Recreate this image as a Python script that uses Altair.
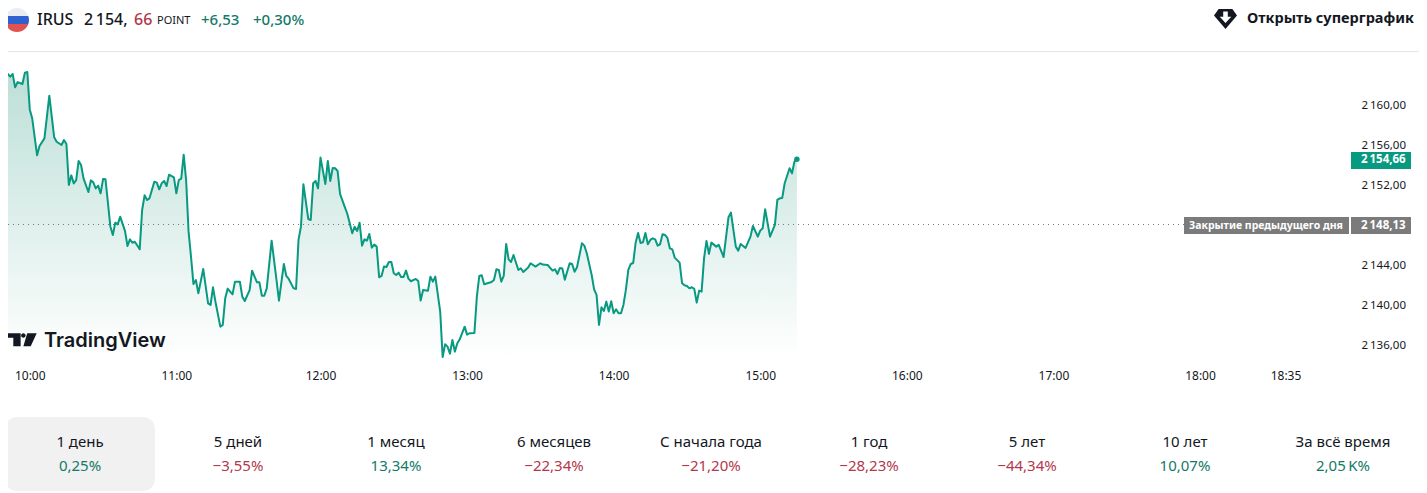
import json

import altair as alt
import pandas as pd

# minutes counted from 09:50
minutes = [
    0, 1, 2, 3, 4, 5, 7, 8, 9, 10, 11, 13, 14, 16, 18, 20, 21, 23, 24, 25, 26, 27, 28, 29, 30, 31, 32, 34, 35, 36,
    37, 38, 39, 40, 41, 43, 44, 45, 46, 47, 49, 50, 51, 52, 53, 55, 56, 57, 58, 59, 61, 62, 63, 64, 65, 66, 67, 69,
    70, 71, 72, 73, 74, 75, 76, 77, 78, 79, 81, 83, 84, 85, 86, 88, 89, 90, 91, 93, 94, 96, 97, 98, 100, 101, 103,
    104, 105, 106, 107, 109, 111, 112,
    114, 115, 116, 118, 119, 120, 121, 122, 124, 125, 126, 127, 128, 129, 131, 132, 133, 134, 135, 136, 137, 139,
    140, 142, 143, 144, 145, 146, 147, 148, 149, 150, 151, 152, 153, 154, 155, 156, 157, 158, 159, 160, 161, 162,
    163, 164, 165, 166, 168, 169, 170, 171, 173, 174, 175, 176, 178, 179, 180, 181, 182, 183, 184, 185, 186, 188,
    189, 190, 192, 193, 194, 195, 196, 199, 200, 201, 202, 203, 204, 205, 206, 207, 208, 210, 211, 212, 214, 215,
    217, 219,
    220, 222, 224, 225, 226, 227, 228, 229, 231, 232, 233, 234, 236, 237, 238, 240, 241, 242, 243, 244, 245, 246,
    247, 248, 249, 250, 251, 252, 253, 254, 255, 256, 257, 258, 259, 260, 261, 262, 263, 264, 265, 266, 267, 268,
    269, 270, 271, 272, 273, 274, 276, 277, 278, 279, 280, 281, 282, 283, 284, 285, 286, 287, 288, 289, 291, 292,
    294, 296, 297, 299, 300, 301, 303, 305, 306, 308, 309, 310, 311, 313, 315, 316, 317, 318, 319, 321, 322, 323,
    324,
]
prices = [
    2163.27, 2163.21, 2162.94, 2163.21, 2161.87, 2162.40, 2162.20, 2163.34, 2163.41, 2159.66, 2158.76, 2155.06,
    2155.99, 2156.76, 2161.03, 2156.86, 2156.42, 2156.09, 2156.59, 2156.19, 2152.08, 2153.05, 2152.25, 2152.58,
    2154.49, 2154.09, 2152.75, 2151.38, 2152.55, 2152.35, 2151.75, 2152.02, 2151.25, 2152.68, 2152.65, 2147.91,
    2147.07, 2148.31, 2148.14, 2148.91, 2147.47, 2145.97, 2146.64, 2146.30, 2146.40, 2145.64, 2149.58, 2151.05,
    2150.58, 2150.75, 2152.42, 2152.32, 2151.65, 2152.25, 2152.48, 2151.98, 2153.12, 2152.85, 2151.25, 2152.58,
    2152.72, 2155.12, 2152.58, 2147.41, 2144.90, 2142.16, 2142.56, 2141.23, 2143.67, 2140.23, 2140.06, 2141.83,
    2140.39, 2137.89, 2138.06, 2140.73, 2141.70, 2141.13, 2142.40, 2142.40, 2140.89, 2140.46, 2141.56, 2143.50,
    2142.33, 2142.33, 2140.99, 2140.99, 2141.73, 2146.51, 2142.56, 2140.49,
    2144.17, 2142.97, 2142.67, 2141.73, 2141.67, 2146.58, 2147.91, 2152.16, 2148.68, 2148.58, 2152.26, 2152.49,
    2151.75, 2154.83, 2152.19, 2154.49, 2152.49, 2153.79, 2153.76, 2153.49, 2151.19, 2149.85, 2149.18, 2147.25,
    2147.91, 2147.48, 2148.31, 2146.01, 2146.64, 2146.51, 2147.18, 2145.81, 2146.11, 2145.91, 2142.84, 2142.97,
    2143.91, 2143.87, 2144.37, 2144.37, 2143.24, 2143.07, 2143.30, 2142.87, 2142.87, 2143.51, 2142.70, 2142.44,
    2142.67, 2142.47, 2140.50, 2141.57, 2141.50, 2142.90, 2142.40, 2142.90, 2139.40, 2134.85, 2136.12, 2135.89,
    2135.19, 2136.56, 2135.39, 2136.22, 2136.62, 2137.89, 2137.09, 2137.23, 2137.26, 2140.90, 2142.97, 2143.04,
    2142.14, 2142.37, 2142.57, 2143.64, 2143.57, 2142.40, 2142.97, 2146.18, 2144.64, 2144.37, 2145.07, 2143.57,
    2143.74, 2143.37, 2143.81, 2144.24, 2143.91, 2144.24,
    2144.11, 2144.07, 2143.51, 2143.64, 2143.17, 2143.77, 2143.71, 2142.60, 2144.24, 2144.17, 2143.40, 2143.84,
    2146.24, 2146.01, 2145.24, 2143.07, 2141.63, 2141.07, 2138.06, 2139.83, 2139.46, 2140.40, 2139.40, 2140.43,
    2139.23, 2139.63, 2139.23, 2139.23, 2140.07, 2141.57, 2143.57, 2144.17, 2144.27, 2146.31, 2147.28, 2146.28,
    2146.34, 2147.28, 2146.14, 2146.58, 2146.74, 2146.64, 2146.01, 2146.14, 2147.15, 2147.08, 2146.78, 2145.74,
    2145.64, 2144.81, 2144.31, 2142.24, 2142.04, 2141.97, 2141.73, 2141.84, 2141.67, 2140.30, 2141.50, 2141.40,
    2144.74, 2146.48, 2145.18, 2146.31, 2145.91, 2146.08, 2144.87, 2148.85, 2149.32, 2145.91, 2145.51, 2146.18,
    2145.78, 2146.91, 2147.98, 2146.91, 2147.51, 2147.75, 2149.65, 2146.91, 2148.08, 2150.59, 2150.75, 2150.79,
    2152.26, 2153.76, 2153.26, 2154.43, 2154.66,
]
prev_close = 2148.13
last_price = 2154.66

y_ticks = [2136, 2140, 2144, 2152, 2156, 2160]
x_ticks = [10, 70, 129, 189, 249, 309, 369, 429, 489, 524]
x_tick_labels = ["10:00", "11:00", "12:00", "13:00", "14:00", "15:00", "16:00", "17:00", "18:00", "18:35"]

periods = ["1 день", "5 дней", "1 месяц", "6 месяцев", "С начала года", "1 год", "5 лет", "10 лет", "За всё время"]
returns = ["0,25%", "−3,55%", "13,34%", "−22,34%", "−21,20%", "−28,23%", "−44,34%", "10,07%", "2,05\u2009K%"]
period_x = [80, 238, 396, 554, 711, 869, 1027, 1185, 1343]

FONT = "Noto Sans"
GREEN = "#089981"
TEXT_GREEN = "#137a68"
TEXT_RED = "#b2384c"
INK = "#131722"
LIGHT_FLAG = "#e9ecf3"

X_DOMAIN = [1.09, 550.4]
Y_DOMAIN = [2134.55, 2169.82]
x_scale = alt.Scale(domain=X_DOMAIN, nice=False, zero=False)
y_scale = alt.Scale(domain=Y_DOMAIN, nice=False, zero=False)

ONE_ROW = pd.DataFrame({"row": [0]})


def label(text, x, y, size=14, color=INK, align="left", weight="normal", font=FONT):
    # page pixels, the svg starts 8px into the page
    return (
        alt.Chart(ONE_ROW)
        .mark_text(fontSize=size, color=color, align=align, baseline="middle", fontWeight=weight, font=font)
        .encode(x=alt.value(x - 8), y=alt.value(y - 8), text=alt.value(text))
    )


def box(x, x2, y, y2, color, radius=0):
    return (
        alt.Chart(ONE_ROW)
        .mark_rect(color=color, cornerRadius=radius)
        .encode(x=alt.value(x - 8), x2=alt.value(x2 - 8), y=alt.value(y - 8), y2=alt.value(y2 - 8))
    )


def icon(path, x, y, diameter, color):
    return (
        alt.Chart(ONE_ROW)
        .mark_point(shape=path, size=diameter**2, filled=True, color=color, opacity=1, strokeWidth=0)
        .encode(x=alt.value(x - 8), y=alt.value(y - 8))
    )


df = pd.DataFrame({"minute": minutes, "price": prices})
df["floor"] = Y_DOMAIN[0]

y_label = "slice(format(datum.value,'.2f'),0,1)+'\u2009'+replace(slice(format(datum.value,'.2f'),1),'.',',')"
x_label = f"{json.dumps(x_tick_labels)}[indexof({json.dumps(x_ticks)},datum.value)]"

x_axis = alt.Axis(
    values=x_ticks,
    labelExpr=x_label,
    domain=False,
    ticks=False,
    grid=False,
    title=None,
    labelFont=FONT,
    labelFontSize=12,
    labelColor=INK,
    labelPadding=10,
    labelAngle=0,
    labelOverlap=False,
)
y_axis = alt.Axis(
    orient="right",
    values=y_ticks,
    labelExpr=y_label,
    domain=False,
    ticks=False,
    grid=False,
    title=None,
    labelFont=FONT,
    labelFontSize=11.5,
    labelColor=INK,
    labelPadding=11,
    labelOffset=-0.5,
)
x_enc = alt.X("minute:Q", scale=x_scale, axis=x_axis)
y_enc = alt.Y("price:Q", scale=y_scale, axis=y_axis)

area = (
    alt.Chart(df)
    .mark_area(
        color=alt.Gradient(
            gradient="linear",
            x1=0,
            x2=0,
            y1=0,
            y2=1,
            stops=[alt.GradientStop(color="#bcdfd7", offset=0), alt.GradientStop(color="#ffffff", offset=1)],
        )
    )
    .encode(x=x_enc, y=y_enc, y2=alt.Y2("floor:Q"))
)

line = (
    alt.Chart(df)
    .mark_line(color=GREEN, strokeWidth=2, strokeJoin="round")
    .encode(x=x_enc, y=y_enc)
)

last_dot = (
    alt.Chart(df.tail(1))
    .mark_circle(color=GREEN, size=30, opacity=1)
    .encode(x=x_enc, y=y_enc)
)

close_rule = (
    alt.Chart(ONE_ROW)
    .mark_rule(color="#6f7480", strokeDash=[1, 4], strokeWidth=1)
    .encode(y=alt.Y(datum=prev_close, scale=y_scale, axis=y_axis), x=alt.value(0), x2=alt.value(1176))
)

tabs = pd.DataFrame(
    {
        "period": periods,
        "ret": returns,
        "px": [v - 8 for v in period_x],
        "colour": [TEXT_RED if r.startswith("−") else TEXT_GREEN for r in returns],
    }
)
tab_names = (
    alt.Chart(tabs)
    .mark_text(fontSize=15, color=INK, font=FONT, baseline="middle")
    .encode(x=alt.X("px:Q", scale=None), y=alt.value(434), text="period:N")
)
tab_returns = (
    alt.Chart(tabs)
    .mark_text(fontSize=15, font=FONT, baseline="middle")
    .encode(x=alt.X("px:Q", scale=None), y=alt.value(458), text="ret:N", color=alt.Color("colour:N", scale=None))
)

flag_top = "M-.943,-.333A1,1 0 0 1 .943,-.333Z"
flag_mid = "M-.943,-.333L.943,-.333A1,1 0 0 1 .943,.333L-.943,.333A1,1 0 0 1 -.943,-.333Z"
flag_low = "M-.943,.333L.943,.333A1,1 0 0 1 -.943,.333Z"
tv_logo = (
    "M-1,-.43H-.07V.43H-.56V-.13H-1Z"
    "M.37,-.43H1L.6,.43H.11Z"
    "M-.04,-.28A.15,.15 0 1 1 .26,-.28A.15,.15 0 1 1 -.04,-.28Z"
)
gem = "M-.6,-.87H.6L1,-.3L0,.87L-1,-.3Z"
gem_arrow = "M-.2,-.65H.2V-.2H.5L0,.35L-.5,-.2H-.2Z"

chart = (
    alt.layer(
        area,
        close_rule,
        line,
        last_dot,
        # header
        box(0, 1427, 51, 52, "#e4e6ec"),
        icon(flag_top, 17, 20, 24, LIGHT_FLAG),
        icon(flag_mid, 17, 20, 24, "#2f62cf"),
        icon(flag_low, 17, 20, 24, "#e0534f"),
        label("IRUS", 37, 20, size=16, weight=500),
        label("2\u2009154,", 84, 20, size=16, weight=500),
        label("66", 134, 20, size=16, weight=500, color=TEXT_RED),
        label("POINT", 157, 21, size=11),
        label("+6,53", 201, 20, size=15, weight=500, color=TEXT_GREEN),
        label("+0,30%", 253, 20, size=15, weight=500, color=TEXT_GREEN),
        icon(gem, 1225.5, 19, 23, "#131722"),
        icon(gem_arrow, 1225.5, 19, 23, "#ffffff"),
        label("Открыть суперграфик", 1247, 19, size=14.5, weight="bold"),
        # price tags
        box(1351, 1411, 152, 169, GREEN),
        label("2\u2009154,66", 1361, 160, size=11.5, weight="bold", color="#ffffff"),
        box(1184, 1349, 217, 234, "#7b7b7b"),
        box(1351, 1411, 217, 234, "#7b7b7b"),
        label("Закрытие предыдущего дня", 1189, 225.5, size=10.5, weight="bold", color="#ffffff"),
        label("2\u2009148,13", 1361, 225.5, size=11.5, weight="bold", color="#ffffff"),
        # watermark
        icon(tv_logo, 21.7, 339.7, 30, "#131722"),
        label("TradingView", 44, 340.5, size=20, weight=600, font="Inter"),
        # period tabs
        box(5, 155, 417, 491, "#f1f1f1", radius=12),
        tab_names,
        tab_returns,
    )
    .properties(
        width=1342,
        height=352,
        background="#ffffff",
        autosize=alt.AutoSizeParams(type="none"),
        padding={"left": 0, "top": 0, "right": 69, "bottom": 133},
    )
    .configure_view(strokeWidth=0)
)

chart.save("out.html", embed_options={"renderer": "svg", "actions": False})
